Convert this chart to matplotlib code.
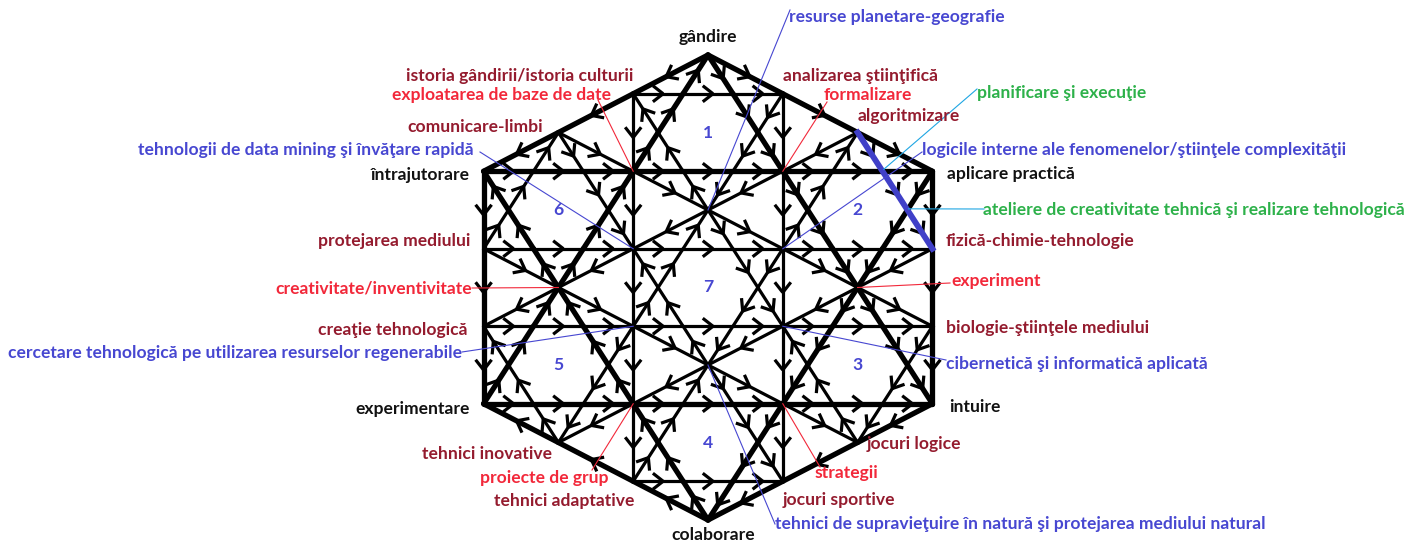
import matplotlib.pyplot as plt
import numpy as np

# lattice -> pixel: x = X0 + i*DX, y = Y0 + j*DY
X0, Y0, DX, DY = 708, 287.5, 74.8, 38.75

# small hexagons (centre in lattice units) and their numbers
centres = [(0, -4), (2, -2), (2, 2), (0, 4), (-2, 2), (-2, -2), (0, 0)]
centre_names = ['1', '2', '3', '4', '5', '6', '7']
ring = [(0, -2), (1, -1), (1, 1), (0, 2), (-1, 1), (-1, -1)]
tri_a = [(0, -2), (1, 1), (-1, 1)]
tri_b = [(0, 2), (-1, -1), (1, -1)]

# big hexagon and big star
outer = [(0, -6), (3, -3), (3, 3), (0, 6), (-3, 3), (-3, -3)]
big_a = [(0, -6), (3, 3), (-3, 3)]
big_b = [(0, 6), (-3, -3), (3, -3)]

# highlighted side
blue_side = [(2, -4), (3, -1)]

# labels: text, x, y, align, colour group
labels = [
    ("gândire", 708, 37, 'center', 'k'),
    ("resurse planetare-geografie", 789, 17, 'left', 'b'),
    ("istoria gândirii/istoria culturii", 633, 76, 'right', 'd'),
    ("analizarea ştiinţifică", 783, 76, 'left', 'd'),
    ("exploatarea de baze de date", 611, 95, 'right', 'r'),
    ("formalizare", 824, 95, 'left', 'r'),
    ("planificare şi execuţie", 977, 93, 'left', 'g'),
    ("algoritmizare", 858, 116, 'left', 'd'),
    ("comunicare-limbi", 543, 127, 'right', 'd'),
    ("tehnologii de data mining şi învăţare rapidă", 474, 150, 'right', 'b'),
    ("logicile interne ale fenomenelor/ştiinţele complexităţii", 922, 150, 'left', 'b'),
    ("întrajutorare", 470, 175, 'right', 'k'),
    ("aplicare practică", 947, 174, 'left', 'k'),
    ("ateliere de creativitate tehnică şi realizare tehnologică", 983, 210, 'left', 'g'),
    ("protejarea mediului", 470, 241, 'right', 'd'),
    ("fizică-chimie-tehnologie", 946, 241, 'left', 'd'),
    ("experiment", 951, 281, 'left', 'r'),
    ("creativitate/inventivitate", 472, 288, 'right', 'r'),
    ("creaţie tehnologică", 468, 330, 'right', 'd'),
    ("biologie-ştiinţele mediului", 946, 328, 'left', 'd'),
    ("cercetare tehnologică pe utilizarea resurselor regenerabile", 462, 353, 'right', 'b'),
    ("cibernetică şi informatică aplicată", 946, 364, 'left', 'b'),
    ("experimentare", 470, 409, 'right', 'k'),
    ("intuire", 949, 407, 'left', 'k'),
    ("jocuri logice", 867, 444, 'left', 'd'),
    ("tehnici inovative", 552, 454, 'right', 'd'),
    ("strategii", 815, 473, 'left', 'r'),
    ("proiecte de grup", 608, 478, 'right', 'r'),
    ("jocuri sportive", 783, 500, 'left', 'd'),
    ("tehnici adaptative", 634, 501, 'right', 'd'),
    ("tehnici de supravieţuire în natură şi protejarea mediului natural", 775, 524, 'left', 'b'),
    ("colaborare", 713, 535, 'center', 'k'),
]

# pointer lines: start pixel -> lattice node, colour group
pointers = [
    ((790, 10), (0, -2), 'b'),
    ((598, 100), (-1, -3), 'r'),
    ((480, 152), (-1, -1), 'b'),
    ((827, 102), (1, -3), 'r'),
    ((977, 89), (2.35, -3.05), 'c'),
    ((922, 152), (1, -1), 'b'),
    ((984, 209), (2.68, -2.03), 'c'),
    ((472, 288), (-2, 0), 'r'),
    ((950, 283), (2, 0), 'r'),
    ((462, 352), (-1, 1), 'b'),
    ((946, 360), (1, 1), 'b'),
    ((592, 470), (-1, 3), 'r'),
    ((820, 467), (1, 3), 'r'),
    ((775, 524), (0, 2), 'b'),
]

colours = {'k': '#111111', 'd': '#941b2e', 'r': '#f2283a', 'b': '#4747d1',
           'g': '#2db14a', 'c': '#1fa6e3'}


def px(p):
    return X0 + p[0] * DX, Y0 + p[1] * DY


def key(a, b):
    a = (round(a[0], 3), round(a[1], 3))
    b = (round(b[0], 3), round(b[1], 3))
    return (a, b) if a < b else (b, a)


pieces = {}


def add_polygon(pts, parts, thick, off=(0, 0)):
    n = len(pts)
    for k in range(n):
        a = np.array(pts[k], float) + off
        b = np.array(pts[(k + 1) % n], float) + off
        for t in range(parts):
            p = a + (b - a) * t / parts
            q = a + (b - a) * (t + 1) / parts
            kk = key(tuple(p), tuple(q))
            if kk not in pieces:
                pieces[kk] = (thick, t)


add_polygon(outer, 3, True)
add_polygon(big_a, 9, True)
add_polygon(big_b, 9, True)
for c in centres:
    add_polygon(ring, 1, False, c)
    add_polygon(tri_a, 3, False, c)
    add_polygon(tri_b, 3, False, c)

fig = plt.figure(figsize=(14.06, 5.46), dpi=100)
ax = fig.add_axes([0, 0, 1, 1])
ax.set_xlim(0, 1406)
ax.set_ylim(546, 0)
ax.axis('off')

for (a, b), (thick, t) in pieces.items():
    (x1, y1), (x2, y2) = px(a), px(b)
    ax.plot([x1, x2], [y1, y2], color='black', lw=3.8 if thick else 2.3,
            solid_capstyle='round', zorder=2)
    di, dj = b[0] - a[0], b[1] - a[1]
    # direction of the chevron
    if abs(dj) < 1e-6:
        sgn = 1 if x2 > x1 else -1
    elif abs(di) < 1e-6 or abs(abs(dj) - abs(di)) < 1e-6:
        sgn = 1 if y2 > y1 else -1
        # lower left outer edge runs towards LL
        if a[1] + b[1] > 6 and a[0] + b[0] < 0 and abs(a[1] - a[0] - 6) < 1e-3 and abs(b[1] - b[0] - 6) < 1e-3:
            sgn = -sgn
    else:
        sgn = (1 if y2 > y1 else -1) * (1 if (t + int(round(a[0] * 3))) % 2 == 0 else -1)
    d = np.array([x2 - x1, y2 - y1]) * sgn
    d = d / np.hypot(*d)
    nrm = np.array([-d[1], d[0]])
    mid = np.array([(x1 + x2) / 2, (y1 + y2) / 2])
    tip = mid + d * 5
    L, ang = 13, np.radians(38)
    for s in (1, -1):
        end = tip - d * L * np.cos(ang) + s * nrm * L * np.sin(ang)
        ax.plot([tip[0], end[0]], [tip[1], end[1]], color='black', lw=2.3,
                solid_capstyle='butt', zorder=3)

(bx1, by1), (bx2, by2) = px(blue_side[0]), px(blue_side[1])
ax.plot([bx1, bx2], [by1, by2], color='#4040c8', lw=4.2, zorder=4)

for start, node, col in pointers:
    ex, ey = px(node)
    ax.plot([start[0], ex], [start[1], ey], color=colours[col], lw=0.8, zorder=5)

font = dict(family=['Lato', 'DejaVu Sans'], weight='bold', fontsize=12.6)
for txt, x, y, ha, col in labels:
    ax.text(x, y, txt, ha=ha, va='center', color=colours[col], zorder=6, **font)

for c, name in zip(centres, centre_names):
    cx, cy = px(c)
    ax.text(cx, cy, name, ha='center', va='center', color='#4747d1', zorder=6, **font)

fig.savefig('out.png', dpi=100, facecolor='white')
